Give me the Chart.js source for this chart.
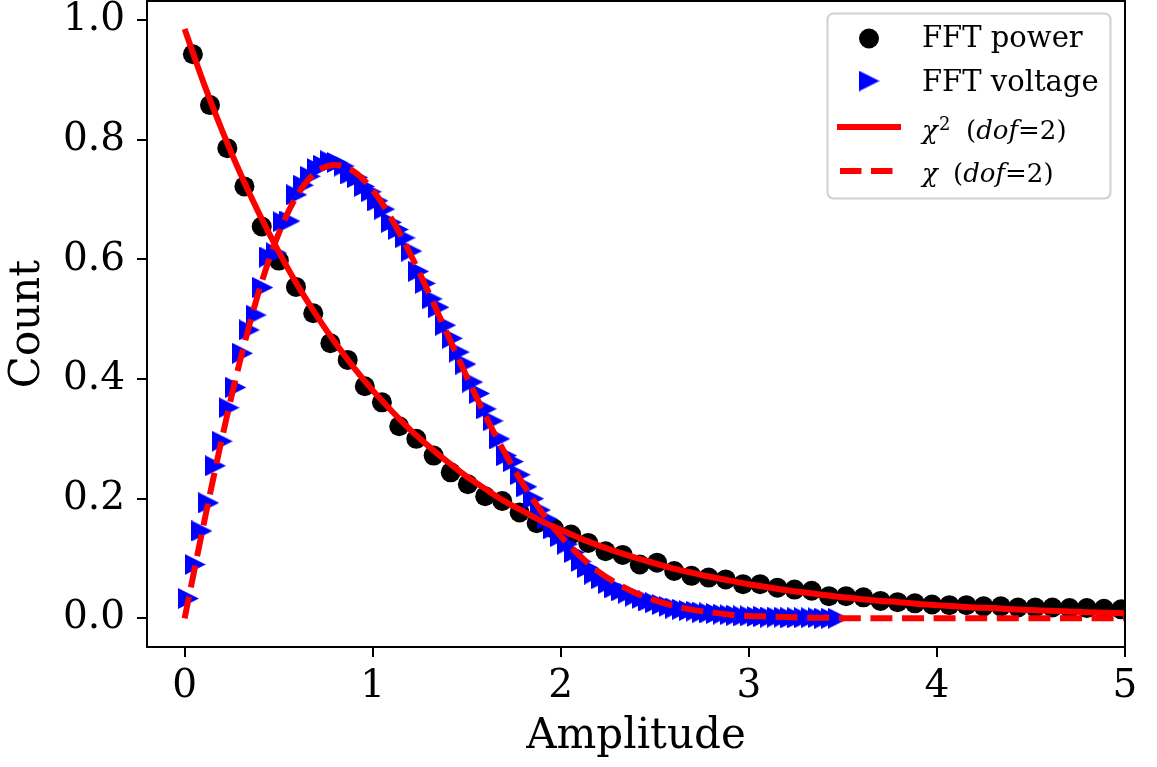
<!DOCTYPE html>
<html><head><meta charset="utf-8">
<script src="https://cdn.jsdelivr.net/npm/chart.js@4"></script>
<style>html,body{margin:0;padding:0;background:#fff;}canvas{display:block;}</style>
</head><body>
<canvas id="c" width="1157" height="767"></canvas>
<script>
const labels = ['FFT power', 'FFT voltage', 'χ² (dof=2)', 'χ (dof=2)'];
const xTicks = [0, 1, 2, 3, 4, 5];
const yTicks = [0.0, 0.2, 0.4, 0.6, 0.8, 1.0];

const powerX = [0.044,0.135,0.227,0.318,0.410,0.501,0.592,0.684,0.775,0.867,0.958,1.049,1.141,1.232,1.324,1.415,1.506,1.598,1.689,1.781,1.872,1.963,2.055,2.146,2.238,2.329,2.420,2.512,2.603,2.695,2.786,2.877,2.969,3.060,3.152,3.243,3.334,3.426,3.517,3.609,3.700,3.791,3.883,3.974,4.066,4.157,4.248,4.340,4.431,4.523,4.614,4.705,4.797,4.888,4.980];
const powerY = [0.943,0.858,0.786,0.722,0.655,0.598,0.554,0.510,0.460,0.432,0.388,0.361,0.321,0.300,0.272,0.244,0.224,0.204,0.196,0.177,0.159,0.150,0.140,0.126,0.112,0.106,0.090,0.093,0.079,0.071,0.068,0.065,0.057,0.057,0.051,0.048,0.046,0.037,0.037,0.035,0.029,0.027,0.025,0.023,0.022,0.022,0.020,0.020,0.018,0.018,0.018,0.017,0.017,0.016,0.015];

const voltageX = [0.020,0.056,0.092,0.128,0.164,0.200,0.236,0.272,0.308,0.344,0.380,0.416,0.452,0.488,0.524,0.560,0.596,0.632,0.668,0.704,0.740,0.776,0.812,0.848,0.884,0.920,0.956,0.992,1.028,1.064,1.100,1.136,1.172,1.208,1.244,1.280,1.316,1.352,1.388,1.424,1.460,1.496,1.532,1.568,1.604,1.640,1.676,1.712,1.748,1.784,1.820,1.856,1.892,1.928,1.964,2.000,2.036,2.072,2.108,2.144,2.180,2.216,2.252,2.288,2.324,2.360,2.396,2.432,2.468,2.504,2.540,2.576,2.612,2.648,2.684,2.720,2.756,2.792,2.828,2.864,2.900,2.936,2.972,3.008,3.044,3.080,3.116,3.152,3.188,3.224,3.260,3.296,3.332,3.368,3.404,3.440,3.476];
const voltageY = [0.033,0.090,0.146,0.193,0.255,0.296,0.352,0.386,0.443,0.482,
0.507,0.553,0.604,0.611,0.663,0.664,0.708,0.724,0.739,0.752,
0.757,0.765,0.762,0.756,0.743,0.737,0.722,0.713,0.698,0.684,
0.662,0.650,0.636,0.614,0.580,0.560,0.534,0.520,0.490,0.468,
0.445,0.425,0.395,0.376,0.350,0.330,0.300,0.272,0.262,0.240,
0.220,0.200,0.181,0.166,0.150,0.137,0.124,0.110,0.095,0.085,
0.074,0.066,0.058,0.051,0.046,0.042,0.037,0.033,0.029,0.026,
0.023,0.020,0.017,0.015,0.013,0.012,0.010,0.009,0.008,0.007,
0.006,0.005,0.004,0.004,0.003,0.003,0.002,0.002,0.002,0.001,
0.001,0.001,0.001,0.001,0.000,0.000,0.000];

const curveX = [0.0,0.1,0.2,0.3,0.4,0.5,0.6,0.7,0.8,0.9,1.0,1.1,1.2,1.3,1.4,1.5,1.6,1.7,1.8,1.9,2.0,2.1,2.2,2.3,2.4,2.5,2.6,2.7,2.8,2.9,3.0,3.1,3.2,3.3,3.4,3.5,3.6,3.7,3.8,3.9,4.0,4.1,4.2,4.3,4.4,4.5,4.6,4.7,4.8,4.9,5.0];
const chi2Y = [0.985,0.896,0.815,0.741,0.674,0.613,0.557,0.507,0.461,0.419,0.381,0.347,0.315,0.287,0.261,0.237,0.216,0.196,0.179,0.162,0.148,0.134,0.122,0.111,0.101,0.092,0.083,0.076,0.069,0.063,0.057,0.052,0.047,0.043,0.039,0.035,0.032,0.029,0.027,0.024,0.022,0.020,0.018,0.017,0.015,0.014,0.0125,0.0114,0.0103,0.0094,0.0086];
const chiY = [0.000,0.155,0.303,0.437,0.552,0.643,0.708,0.746,0.758,0.747,0.716,0.668,0.609,0.543,0.473,0.404,0.338,0.278,0.224,0.177,0.137,0.105,0.078,0.058,0.042,0.030,0.021,0.014,0.010,0.006,0.004,0.003,0.002,0.001,0.001,0.000,0.000,0.000,0.000,0.000,0.000,0.000,0.000,0.000,0.000,0.000,0.000,0.000,0.000,0.000,0.000];

const FONT = 'DejaVu Serif';
const RED = '#ff0000', BLUE = '#0000ff', BLACK = '#000000';

function triImg(size, color) {
  const c = document.createElement('canvas');
  c.width = size; c.height = size;
  const g = c.getContext('2d');
  g.fillStyle = color;
  g.beginPath(); g.moveTo(0, 0); g.lineTo(size, size / 2); g.lineTo(0, size); g.closePath(); g.fill();
  return c;
}
const tri = triImg(21, BLUE);

const pts = (xs, ys) => xs.map((x, i) => ({ x: x, y: ys[i] }));

const framePlugin = {
  id: 'frame',
  afterDatasetsDraw(chart) {
    const { ctx, chartArea: a } = chart;
    ctx.save();
    ctx.strokeStyle = BLACK; ctx.lineWidth = 2;
    ctx.strokeRect(a.left, a.top, a.right - a.left, a.bottom - a.top);
    ctx.restore();
  }
};

const rich = [
  [{ t: labels[0], size: 29 }],
  [{ t: labels[1], size: 29 }],
  [{ t: 'χ', it: true, size: 26 }, { t: '2', size: 18, at: 939, rise: 9 }, { t: '(', size: 26, at: 966 }, { t: 'dof', it: true, size: 26 }, { t: '=', size: 26 }, { t: '2)', size: 26 }],
  [{ t: 'χ', it: true, size: 26 }, { t: '(', size: 26, at: 953 }, { t: 'dof', it: true, size: 26 }, { t: '=', size: 26 }, { t: '2)', size: 26 }]
];

const legendPlugin = {
  id: 'innerLegend',
  afterDraw(chart) {
    const ctx = chart.ctx;
    ctx.save();
    ctx.beginPath();
    ctx.roundRect(827.5, 13.5, 283, 185, 6);
    ctx.fillStyle = 'rgba(255,255,255,0.8)';
    ctx.fill();
    ctx.strokeStyle = '#d0d0d0'; ctx.lineWidth = 2;
    ctx.stroke();
    ctx.fillStyle = BLACK;
    ctx.beginPath(); ctx.arc(869, 38.5, 10, 0, Math.PI * 2); ctx.fill();
    ctx.drawImage(tri, 869 - 10.5, 81 - 10.5);
    ctx.strokeStyle = RED; ctx.lineWidth = 6; ctx.lineCap = 'butt';
    ctx.beginPath(); ctx.moveTo(837, 127); ctx.lineTo(901, 127); ctx.stroke();
    ctx.setLineDash([21.5, 9.5]);
    ctx.beginPath(); ctx.moveTo(840, 171); ctx.lineTo(901, 171); ctx.stroke();
    ctx.setLineDash([]);
    const baselines = [47, 91, 138.5, 181.5];
    ctx.fillStyle = BLACK; ctx.textBaseline = 'alphabetic'; ctx.textAlign = 'left';
    rich.forEach((parts, r) => {
      let x = 922;
      parts.forEach(p => {
        if (p.at) x = p.at;
        ctx.font = (p.it ? 'italic ' : '') + p.size + 'px "' + FONT + '"';
        ctx.fillText(p.t, x, baselines[r] - (p.rise || 0));
        x += ctx.measureText(p.t).width;
      });
    });
    ctx.restore();
  }
};

const tickGrid = { display: true, drawOnChartArea: false, drawTicks: true, tickLength: 10, tickWidth: 2, tickColor: BLACK, lineWidth: 2, color: BLACK };
const zeroPad = () => ({ left: 0, top: 0, right: 0, bottom: 0 });

new Chart(document.getElementById('c'), {
  type: 'scatter',
  data: {
    datasets: [
      { label: labels[0], data: pts(powerX, powerY), showLine: false, pointStyle: 'circle', pointRadius: 10, pointBackgroundColor: BLACK, pointBorderWidth: 0, pointBorderColor: BLACK, clip: 0, order: 4 },
      { label: labels[1], data: pts(voltageX, voltageY), showLine: false, pointStyle: tri, pointRadius: 10, clip: 0, order: 3 },
      { label: labels[2], data: pts(curveX, chi2Y), showLine: true, pointRadius: 0, borderColor: RED, borderWidth: 6, cubicInterpolationMode: 'monotone', clip: 0, order: 2 },
      { label: labels[3], data: pts(curveX, chiY), showLine: true, pointRadius: 0, borderColor: RED, borderWidth: 6, borderDash: [22, 9.6], borderCapStyle: 'butt', cubicInterpolationMode: 'monotone', clip: 0, order: 1 }
    ]
  },
  options: {
    responsive: false,
    animation: false,
    devicePixelRatio: 1,
    events: [],
    layout: { autoPadding: false, padding: { left: 0, right: 32, top: 1, bottom: 0 } },
    plugins: { legend: { display: false }, title: { display: false }, tooltip: { enabled: false } },
    scales: {
      x: {
        type: 'linear', min: -0.2, max: 5,
        afterBuildTicks: s => { s.ticks = xTicks.map(v => ({ value: v })); },
        afterFit: s => { s.height = 120; s.paddingLeft = 0; s.paddingRight = 0; s.paddingTop = 0; s.paddingBottom = 0; s.getPadding = zeroPad; },
        grid: tickGrid,
        border: { display: false },
        ticks: { color: BLACK, font: { family: FONT, size: 39 }, padding: 6, maxRotation: 0, autoSkip: false, callback: v => String(v) },
        title: { display: true, text: 'Amplitude', color: BLACK, font: { family: FONT, size: 42 }, padding: { top: 0, bottom: 5 } }
      },
      y: {
        type: 'linear', min: -0.048, max: 1.032,
        afterBuildTicks: s => { s.ticks = yTicks.map(v => ({ value: v })); },
        afterFit: s => { s.width = 147; s.paddingTop = 0; s.paddingBottom = 0; s.paddingLeft = 0; s.paddingRight = 0; s.getPadding = zeroPad; },
        grid: tickGrid,
        border: { display: false },
        ticks: { color: BLACK, font: { family: FONT, size: 39 }, padding: 12, autoSkip: false, callback: v => Number(v).toFixed(1) },
        title: { display: true, text: 'Count', color: BLACK, font: { family: FONT, size: 42 }, padding: { top: 3, bottom: 0 } }
      }
    }
  },
  plugins: [framePlugin, legendPlugin]
});
</script>
</body></html>
